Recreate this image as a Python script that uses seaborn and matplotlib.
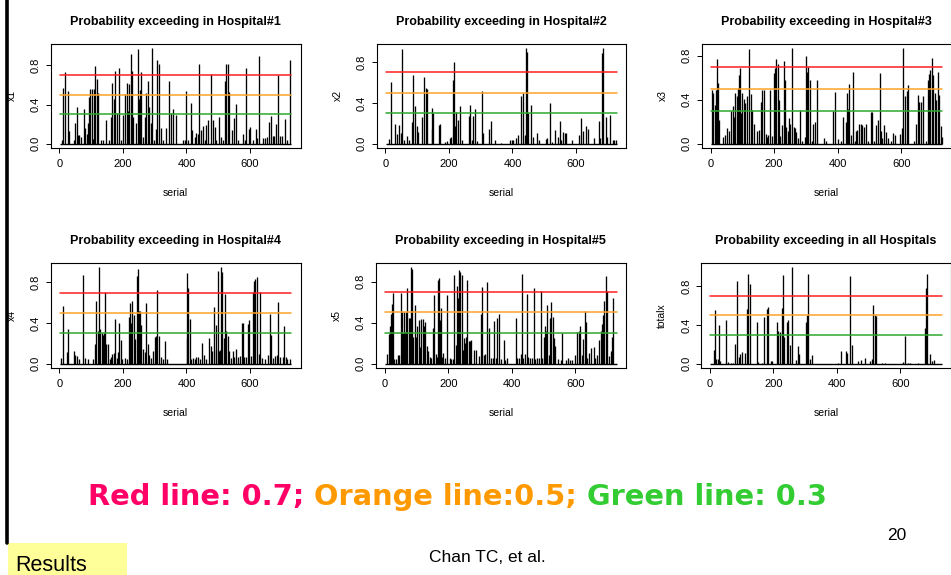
import numpy as np
import matplotlib
matplotlib.use("Agg")
import matplotlib.pyplot as plt
from matplotlib.lines import Line2D
from matplotlib.patches import Rectangle
import seaborn as sns

# ---------------- data ----------------
N_DAYS = 730
thresholds = [0.7, 0.5, 0.3]
threshold_colors = ["#ff1f1f", "#ffa327", "#2ea82e"]
x_ticks = [0, 200, 400, 600]
y_ticks = [0.0, 0.4, 0.8]

titles = ["Probability exceeding in Hospital#1", "Probability exceeding in Hospital#2",
          "Probability exceeding in Hospital#3", "Probability exceeding in Hospital#4",
          "Probability exceeding in Hospital#5", "Probability exceeding in all Hospitals"]
ylabels = ["x1", "x2", "x3", "x4", "x5", "totalx"]

x1_day = [8,12,19,28,31,47,50,54,59,62,68,76,81,86,90,94,96,101,106,110,113,117,123,131,138,147,157,162,166,173,
          175,181,187,194,201,208,212,216,220,225,229,233,242,246,250,254,258,264,269,273,278,283,288,293,299,305,308,
          312,320,326,336,345,352,357,366,389,394,400,405,414,419,426,431,437,441,447,452,458,463,469,478,484,489,494,
          503,510,516,520,525,531,535,542,549,555,563,579,584,589,596,601,610,618,623,630,642,648,653,659,665,672,676,
          682,687,695,702,710,716,726]
x1_val = [0.04,0.57,0.73,0.54,0.13,0.04,0.21,0.38,0.09,0.09,0.07,0.36,0.16,0.10,0.21,0.48,0.56,0.56,0.05,0.56,
          0.79,0.66,0.52,0.04,0.04,0.24,0.04,0.27,0.62,0.46,0.74,0.31,0.77,0.04,0.29,0.51,0.62,0.34,0.61,0.92,
          0.74,0.27,0.21,0.97,0.46,0.55,0.73,0.07,0.27,0.52,0.64,0.38,0.21,0.98,0.04,0.15,0.86,0.82,0.16,0.04,
          0.16,0.64,0.31,0.36,0.29,0.04,0.04,0.54,0.04,0.42,0.14,0.07,0.11,0.10,0.82,0.14,0.18,0.04,0.19,0.24,
          0.71,0.24,0.17,0.04,0.27,0.07,0.04,0.64,0.82,0.82,0.53,0.14,0.26,0.41,0.04,0.10,0.04,0.77,0.15,0.17,
          0.04,0.15,0.06,0.90,0.06,0.06,0.07,0.22,0.28,0.08,0.08,0.20,0.70,0.08,0.08,0.25,0.04,0.86]

x2_day = [12,17,31,36,44,48,52,59,67,73,85,88,94,98,103,115,120,127,130,146,148,151,170,173,186,194,202,207,212,215,
          219,223,229,234,241,262,267,273,276,282,287,303,308,326,331,345,364,393,398,403,410,417,428,434,439,442,445,
          450,457,465,477,484,506,509,519,525,534,544,549,554,559,566,570,588,608,617,622,632,639,658,672,677,682,686,
          695,699,707,716,720,727]
x2_val = [0.05,0.61,0.19,0.10,0.18,0.11,0.93,0.04,0.08,0.04,0.21,0.67,0.37,0.17,0.12,0.26,0.65,0.55,0.54,0.15,
          0.35,0.30,0.18,0.19,0.02,0.03,0.06,0.07,0.63,0.80,0.17,0.31,0.23,0.37,0.04,0.27,0.38,0.04,0.27,0.34,
          0.03,0.52,0.11,0.15,0.22,0.04,0.01,0.04,0.04,0.04,0.06,0.09,0.47,0.50,0.09,0.94,0.90,0.30,0.38,0.07,
          0.11,0.04,0.05,0.06,0.40,0.02,0.14,0.07,0.22,0.04,0.12,0.11,0.11,0.04,0.09,0.25,0.13,0.17,0.15,0.06,
          0.22,0.06,0.89,0.94,0.26,0.07,0.28,0.04,0.04,0.04]

x3_day = [4,8,13,17,20,24,27,40,46,53,57,63,69,73,77,82,85,90,93,96,100,104,109,115,120,126,130,137,147,152,158,162,
          167,173,177,181,188,194,199,203,207,211,215,219,226,230,234,238,243,247,251,257,262,266,270,276,282,289,296,
          300,304,308,313,319,323,328,336,357,363,384,392,401,409,416,426,430,434,436,441,447,454,458,462,468,473,477,
          483,489,494,504,508,515,521,526,532,536,541,546,553,559,568,575,580,595,603,607,613,619,622,641,648,652,656,
          662,669,678,684,688,692,696,700,705,710,715,720,725,730]
x3_val = [0.49,0.46,0.35,0.49,0.77,0.55,0.22,0.06,0.08,0.14,0.12,0.30,0.34,0.24,0.46,0.43,0.51,0.62,0.69,0.28,
          0.46,0.41,0.37,0.43,0.86,0.45,0.31,0.18,0.12,0.13,0.38,0.49,0.49,0.09,0.06,0.08,0.49,0.07,0.64,0.69,
          0.77,0.72,0.40,0.07,0.17,0.75,0.58,0.15,0.12,0.23,0.18,0.87,0.15,0.14,0.11,0.05,0.31,0.03,0.06,0.80,
          0.65,0.70,0.58,0.03,0.18,0.20,0.58,0.05,0.03,0.30,0.47,0.04,0.03,0.24,0.20,0.46,0.32,0.54,0.08,0.65,
          0.03,0.12,0.13,0.18,0.18,0.17,0.15,0.18,0.03,0.29,0.29,0.03,0.17,0.22,0.64,0.12,0.05,0.17,0.11,0.05,
          0.03,0.10,0.08,0.09,0.14,0.87,0.43,0.48,0.53,0.03,0.18,0.44,0.38,0.38,0.43,0.03,0.58,0.63,0.67,0.78,
          0.62,0.46,0.40,0.65,0.44,0.16,0.06]

x4_day = [6,12,24,27,45,50,55,61,75,80,91,107,112,116,120,124,129,133,137,141,145,148,152,158,162,167,172,175,180,184,
          189,193,198,205,213,219,223,226,230,234,238,243,247,251,254,258,264,268,272,279,283,289,295,300,304,308,312,
          320,325,331,338,402,403,406,410,415,420,426,430,437,443,449,454,462,471,476,479,487,492,494,498,502,506,510,
          513,517,521,525,530,534,540,546,551,555,561,568,574,577,582,589,595,598,603,608,612,617,621,627,631,639,648,
          658,663,667,671,679,684,688,696,703,708,713,717,727]
x4_val = [0.06,0.57,0.12,0.34,0.13,0.09,0.08,0.05,0.87,0.06,0.05,0.05,0.19,0.62,0.32,0.95,0.34,0.30,0.28,0.30,
          0.71,0.19,0.19,0.05,0.07,0.10,0.11,0.44,0.06,0.12,0.40,0.23,0.05,0.06,0.05,0.46,0.60,0.40,0.62,0.48,
          0.24,0.86,0.93,0.52,0.52,0.38,0.15,0.12,0.60,0.19,0.09,0.06,0.13,0.26,0.27,0.73,0.27,0.07,0.05,0.22,
          0.05,0.25,0.89,0.75,0.44,0.05,0.06,0.05,0.07,0.07,0.05,0.20,0.09,0.05,0.25,0.18,0.13,0.56,0.38,0.14,
          0.91,0.13,0.14,0.95,0.90,0.25,0.69,0.32,0.27,0.13,0.06,0.13,0.07,0.15,0.07,0.08,0.40,0.40,0.07,0.07,
          0.39,0.43,0.08,0.71,0.81,0.83,0.85,0.10,0.71,0.06,0.05,0.09,0.49,0.28,0.06,0.08,0.09,0.61,0.07,0.07,
          0.37,0.07,0.05,0.05]

x5_day = [8,13,16,19,22,25,29,36,43,46,50,55,59,62,65,68,71,76,79,82,86,90,94,99,103,107,111,115,120,124,127,132,136,
          141,147,152,155,160,164,167,170,174,177,181,185,191,197,205,210,214,218,224,227,231,234,238,242,247,250,253,
          256,260,264,269,273,281,287,296,302,306,313,317,323,327,334,340,344,350,355,359,365,376,380,386,413,417,424,
          428,432,436,441,447,451,457,464,470,474,480,485,491,496,501,505,508,512,516,520,525,529,533,537,545,554,559,
          571,577,583,590,600,606,611,616,621,625,630,634,638,644,650,659,663,669,676,680,684,688,692,697,701,706,711,
          715,720]
x5_val = [0.10,0.29,0.37,0.48,0.58,0.69,0.05,0.05,0.09,0.09,0.69,0.50,0.30,0.50,0.31,0.50,0.74,0.45,0.45,0.94,
          0.92,0.26,0.57,0.26,0.37,0.43,0.16,0.44,0.44,0.37,0.41,0.17,0.12,0.07,0.06,0.35,0.67,0.10,0.07,0.82,
          0.83,0.43,0.54,0.07,0.11,0.06,0.67,0.06,0.05,0.05,0.86,0.18,0.76,0.64,0.91,0.89,0.86,0.13,0.25,0.20,
          0.26,0.82,0.22,0.22,0.23,0.13,0.13,0.08,0.48,0.75,0.09,0.10,0.80,0.35,0.06,0.06,0.42,0.06,0.45,0.48,
          0.05,0.23,0.04,0.06,0.45,0.06,0.06,0.10,0.87,0.06,0.10,0.68,0.07,0.06,0.06,0.74,0.05,0.06,0.06,0.71,
          0.06,0.26,0.37,0.32,0.57,0.09,0.45,0.60,0.46,0.25,0.17,0.05,0.04,0.30,0.04,0.06,0.04,0.04,0.09,0.31,
          0.32,0.37,0.09,0.24,0.51,0.41,0.06,0.11,0.15,0.16,0.06,0.09,0.23,0.32,0.39,0.47,0.61,0.85,0.71,0.08,
          0.12,0.26,0.64]

x6_day = [13,16,20,25,28,31,49,58,65,73,79,84,90,94,100,110,117,121,127,148,152,163,169,180,184,191,195,210,215,220,
          226,230,234,242,245,253,258,272,278,282,301,307,309,315,320,404,413,430,433,440,446,467,477,489,504,510,515,
          519,524,543,551,607,615,624,629,655,677,682,685,692,699,707]
x6_val = [0.14,0.56,0.05,0.05,0.40,0.03,0.45,0.02,0.01,0.01,0.21,0.86,0.07,0.10,0.12,0.11,0.57,0.93,0.83,0.43,
          0.02,0.01,0.48,0.57,0.59,0.03,0.03,0.43,0.34,0.33,0.58,0.92,0.28,0.43,0.45,0.19,1.00,0.04,0.18,0.10,
          0.43,0.50,0.93,0.05,0.09,0.01,0.13,0.13,0.11,0.91,0.19,0.03,0.04,0.06,0.03,0.05,0.61,0.50,0.49,0.01,
          0.01,0.02,0.29,0.01,0.01,0.01,0.37,0.78,0.93,0.10,0.03,0.04]

series_days = [x1_day, x2_day, x3_day, x4_day, x5_day, x6_day]
series_vals = [x1_val, x2_val, x3_val, x4_val, x5_val, x6_val]

legend_parts = [("Red line: 0.7; ", "#ff0066"), ("Orange line:0.5; ", "#ff9900"), ("Green line: 0.3", "#33cc33")]

# ---------------- style ----------------
sns.set_style("ticks")
plt.rcParams["font.family"] = ["Liberation Sans", "DejaVu Sans"]
plt.rcParams["axes.linewidth"] = 0.8

W, H = 951, 575
fig = plt.figure(figsize=(W / 100, H / 100), dpi=100)
fig.patch.set_facecolor("white")

# axes boxes in pixels: (left, top, right, bottom)
boxes = [(50.5, 44.0, 300.5, 147.7), (376.5, 44.0, 626.5, 147.7), (701.7, 44.0, 951.7, 147.7),
         (50.5, 263.3, 300.5, 367.7), (375.8, 263.3, 625.8, 367.7), (701.0, 263.3, 951.0, 367.7)]

days = np.arange(1, N_DAYS + 1)
for i, (box, d, v) in enumerate(zip(boxes, series_days, series_vals)):
    l, t, r, b = box
    ax = fig.add_axes([l / W, 1 - b / H, (r - l) / W, (b - t) / H])
    vals = np.zeros(N_DAYS)
    vals[np.asarray(d) - 1] = np.asarray(v)
    ax.vlines(days, 0, vals, color="black", lw=0.95)
    ax.hlines(0, days[0], days[-1], color="black", lw=1.0)
    for thr, c in zip(thresholds, threshold_colors):
        sns.lineplot(x=[days[0], days[-1]], y=[thr, thr], color=c, lw=1.1, ax=ax, legend=False)
    span = days[-1] - days[0]
    ax.set_xlim(days[0] - 0.04 * span, days[-1] + 0.04 * span)
    vmax = vals.max()
    ax.set_ylim(-0.04 * vmax, 1.04 * vmax)
    ax.set_xticks(x_ticks)
    ax.set_xticklabels([str(x) for x in x_ticks])
    ax.set_yticks(y_ticks)
    ax.set_yticklabels([f"{y:.1f}" for y in y_ticks])
    ax.tick_params(axis="both", length=3.6, width=0.7, labelsize=8, color="black", labelcolor="black")
    ax.tick_params(axis="x", pad=4.5)
    ax.tick_params(axis="y", pad=3.5, labelrotation=90)
    for lab in ax.get_yticklabels():
        lab.set_va("center")
    for sp in ax.spines.values():
        sp.set_visible(True)
        sp.set_color("black")
    ax.set_title(titles[i], fontsize=9, fontweight="bold", pad=13.8, color="black")
    ax.set_xlabel("serial", fontsize=7.5, color="black")
    ax.set_ylabel(ylabels[i], fontsize=7.5, color="black")
    ax.xaxis.set_label_coords(0.5, -45.0 / (b - t))
    ax.xaxis.label.set_va("center")
    ax.yaxis.set_label_coords(-38.7 / (r - l), 0.5)
    ax.yaxis.label.set_va("center")
    ax.set_facecolor("white")

# ---------------- slide decorations ----------------
fig.add_artist(Line2D([6.5 / W, 6.5 / W], [1, 1 - 543 / H], color="black", lw=2.6, transform=fig.transFigure))
fig.add_artist(Rectangle((8 / W, 0), (127 - 8) / W, (575 - 543) / H, facecolor="#ffff99",
                         edgecolor="none", transform=fig.transFigure))
fig.text(15 / W, 1 - 571 / H, "Results", fontsize=15.5, color="black", ha="left", va="baseline")
fig.text(487 / W, 1 - 562 / H, "Chan TC, et al.", fontsize=12.5, color="black", ha="center", va="baseline")
fig.text(897 / W, 1 - 540 / H, "20", fontsize=12.5, color="black", ha="center", va="baseline")

renderer = fig.canvas.get_renderer()
x = 88.0
for txt, col in legend_parts:
    t = fig.text(x / W, 1 - 505 / H, txt, fontsize=20.8, fontweight="bold", color=col,
                 family=["DejaVu Sans"], ha="left", va="baseline")
    x += t.get_window_extent(renderer).width

fig.savefig("out.png", dpi=100, facecolor="white")
